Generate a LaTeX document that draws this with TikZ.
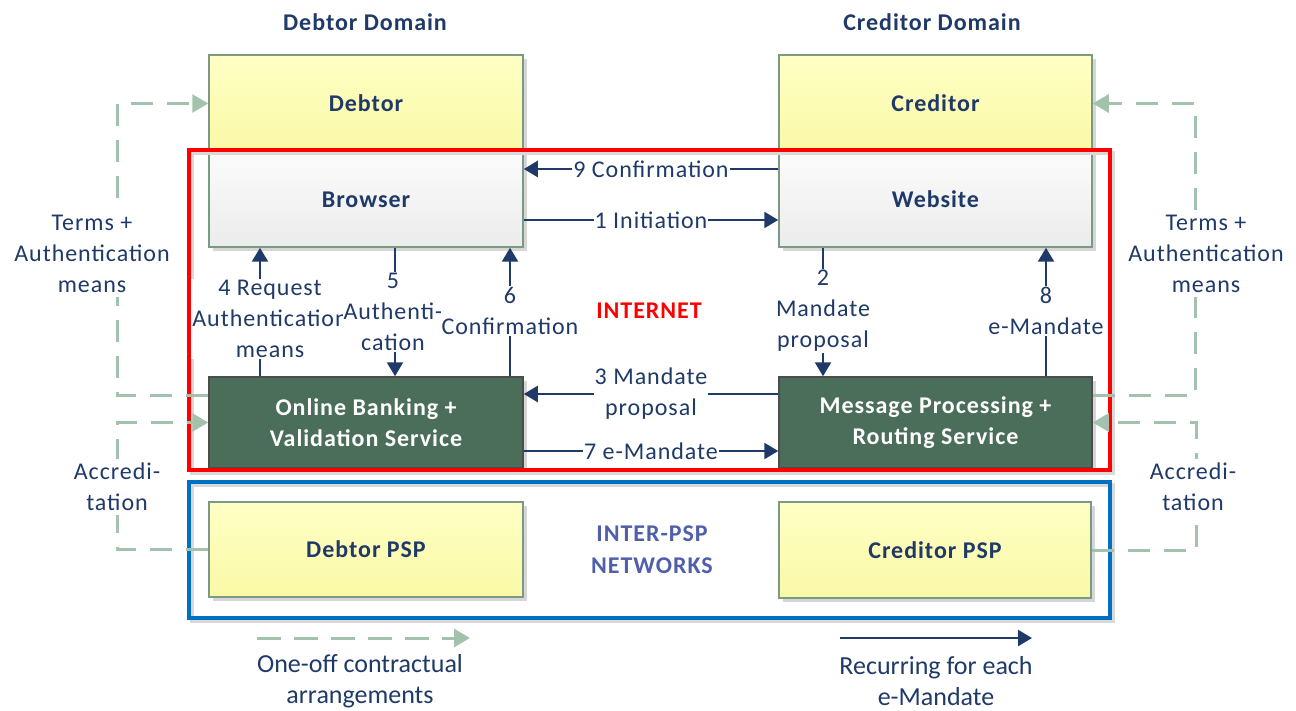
\documentclass[tikz,border=0pt]{standalone}
\usepackage{fontspec}
\setmainfont{Carlito}[LetterSpace=4]
\newfontfamily\legfont{Carlito}
\usetikzlibrary{arrows.meta,shadows}
\definecolor{navy}{HTML}{1F3A68}
\definecolor{sage}{HTML}{A3C2AE}
\definecolor{yeltop}{HTML}{FFFFC6}
\definecolor{yelbot}{HTML}{F9F9A6}
\definecolor{dkgreen}{HTML}{4A6E59}
\definecolor{boxline}{HTML}{7A9A84}
\definecolor{netblue}{HTML}{0070C0}
\definecolor{pspblue}{HTML}{4F5FAA}
\definecolor{brwtop}{HTML}{FBFBFB}
\definecolor{brwbot}{HTML}{ECECEC}
\tikzset{
  boxbase/.style={draw=boxline, line width=1.5pt, text=navy, font=\bfseries\fontsize{24}{31}\selectfont,
    drop shadow={shadow xshift=4pt, shadow yshift=-4pt, fill=black!16, opacity=1}},
  ybox/.style={boxbase, top color=yeltop, bottom color=yelbot},
  gbox/.style={boxbase, top color=brwtop, bottom color=brwbot},
  dbox/.style={boxbase, draw=black!70, fill=dkgreen, text=white, align=center},
  flow/.style={draw=navy, line width=2.5pt, -{Triangle[length=14pt,width=16pt]}},
  contract/.style={draw=sage, line width=3pt, dash pattern=on 22pt off 14pt, -{Triangle[length=16pt,width=18pt]}},
  lab/.style={fill=white, inner sep=1pt, text=navy, align=center, font=\fontsize{24}{31}\selectfont},
  sidelab/.style={lab, inner sep=4pt},
  title/.style={text=navy, font=\bfseries\fontsize{24}{31}\selectfont},
  frame/.style={line width=4pt},
}
\begin{document}
\begin{tikzpicture}[x=1pt, y=-1pt]
\useasboundingbox (0,0) rectangle (1296,711);
% titles
\node[title] (tD) at (365,22) {Debtor Domain};
\node[title] (tC) at (932,22) {Creditor Domain};
% boxes
\node[ybox, minimum width=314pt, minimum height=97pt] (Debtor) at (366,103.5) {Debtor};
\node[gbox, minimum width=314pt, minimum height=95pt] (Browser) at (366,199.5) {Browser};
\node[ybox, minimum width=313pt, minimum height=97pt] (Creditor) at (935.5,103.5) {Creditor};
\node[gbox, minimum width=313pt, minimum height=95pt] (Website) at (935.5,199.5) {Website};
\node[dbox, minimum width=314pt, minimum height=91pt] (OB) at (366,422.5) {Online Banking +\\Validation Service};
\node[dbox, minimum width=313pt, minimum height=91pt] (MP) at (935.5,422.5) {Message Processing +\\Routing Service};
\node[ybox, minimum width=314pt, minimum height=95pt] (DPSP) at (366,549.5) {Debtor PSP};
\node[ybox, minimum width=312pt, minimum height=96pt] (CPSP) at (935,550) {Creditor PSP};
% frames
\draw[frame, black!15] (192,153) rectangle (1113,473);
\draw[frame, black!15] (192,485) rectangle (1113,621);
\draw[frame, red] (189,150) rectangle (1110,470);
\draw[frame, netblue] (189,482) rectangle (1110,618);
\node[text=red, font=\bfseries\fontsize{24}{31}\selectfont] (inet) at (649,311) {INTERNET};
\node[text=pspblue, align=center, font=\bfseries\fontsize{24}{32}\selectfont] (ipsp) at (652,550) {INTER-PSP\\NETWORKS};
% one-off contractual arrangements
\draw[contract] ([yshift=27.5pt]OB.west) -- ++(-91,0) |- (Debtor.west);
\draw[contract] (DPSP.west) -- ++(-91,0) |- (OB.west);
\draw[contract] ([yshift=27.5pt]MP.east) -- ++(103,0) |- (Creditor.east);
\draw[contract] (CPSP.east) -- ++(104.5,0) |- (MP.east);
\node[sidelab] (tl) at (92,254) {Terms +\\Authentication\\means};
\node[sidelab] (al) at (117,487) {Accredi-\\tation};
\node[sidelab] (tr) at (1206,254) {Terms +\\Authentication\\means};
\node[sidelab] (ar) at (1193,487) {Accredi-\\tation};
% recurring flows
\draw[flow] ([yshift=30.5pt]Website.west) -- node[lab]{9 Confirmation} ([yshift=30.5pt]Browser.east);
\draw[flow] ([yshift=-20.5pt]Browser.east) -- node[lab]{1 Initiation} ([yshift=-20.5pt]Website.west);
\draw[flow] ([xshift=-106pt]OB.north) -- node[lab, xshift=10pt, yshift=-7pt]{4 Request\\Authentication\\means} ([xshift=-106pt]Browser.south);
\draw[flow] ([xshift=29pt]Browser.south) -- node[lab, xshift=-2pt]{5\\Authenti-\\cation} ([xshift=29pt]OB.north);
\draw[flow] ([xshift=144pt]OB.north) -- node[lab, yshift=1pt]{6\\Confirmation} ([xshift=144pt]Browser.south);
\draw[flow] ([yshift=28.5pt]MP.west) -- node[lab]{3 Mandate\\proposal} ([yshift=28.5pt]OB.east);
\draw[flow] ([yshift=-28.5pt]OB.east) -- node[lab]{7 e-Mandate} ([yshift=-28.5pt]MP.west);
\draw[flow] ([xshift=-112.5pt]Website.south) -- node[lab, yshift=1pt]{2\\Mandate\\proposal} ([xshift=-112.5pt]MP.north);
\draw[flow] ([xshift=110.5pt]MP.north) -- node[lab, yshift=1pt]{8\\e-Mandate} ([xshift=110.5pt]Website.south);
% legend
\coordinate (c1) at (257,638);
\coordinate (c2) at (470,638);
\coordinate (r1) at (840,638);
\coordinate (r2) at (1032,638);
\draw[contract, dash pattern=on 24pt off 13pt] (c1) -- (c2);
\draw[flow] (r1) -- (r2);
\node[text=navy, align=center, font=\legfont\fontsize{26}{31}\selectfont] (lc) at (360,681) {One-off contractual\\arrangements};
\node[text=navy, align=center, font=\legfont\fontsize{26}{31}\selectfont] (lr) at (936,681) {Recurring for each\\e-Mandate};
\end{tikzpicture}
\end{document}
